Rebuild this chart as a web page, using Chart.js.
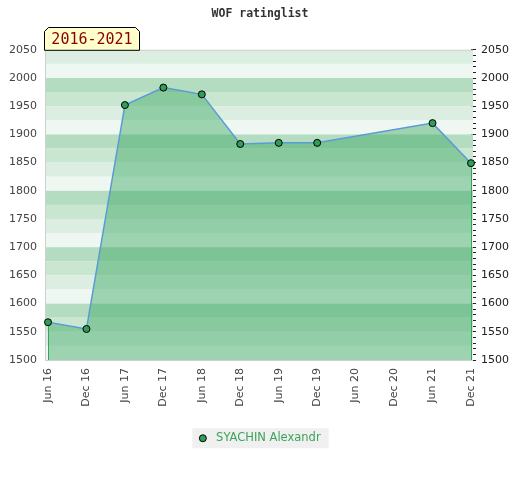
<!DOCTYPE html>
<html>
<head>
<meta charset="utf-8">
<title>WOF ratinglist</title>
<script src="https://cdn.jsdelivr.net/npm/chart.js@4"></script>
<style>
  html, body { margin: 0; padding: 0; background: #fff; }
  #wrap { width: 520px; height: 480px; }
</style>
</head>
<body>
<div id="wrap"><canvas id="ratingChart" width="520" height="480"></canvas></div>
<script>
// chart data
const periods = ['Jun 16', 'Dec 16', 'Jun 17', 'Dec 17', 'Jun 18', 'Dec 18',
                 'Jun 19', 'Dec 19', 'Jun 20', 'Dec 20', 'Jun 21', 'Dec 21'];
const ratings = [1567, 1555, 1952, 1983, 1971, 1883, 1885, 1885, null, null, 1920, 1849];
const playerName = 'SYACHIN Alexandr';
const chartTitle = 'WOF ratinglist';
const periodLabel = '2016-2021';
const ratingMin = 1500;
const ratingMax = 2050;

const pointGreen = '#2f9e57';
const textGreen = '#3aa35a';
const bottomPad = 26;
const plotBottom = 360;

// striped background behind the plot, 4 shades repeating every 100 points
const bandsPlugin = {
    id: 'bands',
    beforeDatasetsDraw(chart) {
        const ctx = chart.ctx;
        const y = chart.scales.y;
        const area = chart.chartArea;
        const left = area.left - 3;
        const right = area.right + 2;
        const shades = ['#b3dcc0', '#c8e6d0', '#dbeee1', '#eff7f2'];
        ctx.save();
        for (let v = y.max; v > y.min; v -= 25) {
            const idx = ((100 - (v % 100)) % 100) / 25;
            const top = y.getPixelForValue(v);
            const bottom = y.getPixelForValue(v - 25);
            ctx.fillStyle = shades[idx];
            ctx.fillRect(left, top, right - left, bottom - top);
        }
        // frame
        ctx.strokeStyle = '#d0d0d0';
        ctx.lineWidth = 1;
        ctx.beginPath();
        ctx.moveTo(left + 0.5, area.bottom);
        ctx.lineTo(left + 0.5, area.top + 0.5);
        ctx.lineTo(right, area.top + 0.5);
        ctx.moveTo(left, area.bottom + 0.5);
        ctx.lineTo(right, area.bottom + 0.5);
        ctx.stroke();
        ctx.restore();
    },
    afterDatasetsDraw(chart) {
        // green edges of the filled area
        const ctx = chart.ctx;
        const meta = chart.getDatasetMeta(0);
        const pts = meta.data.filter((p, i) => ratings[i] !== null);
        const bottom = chart.chartArea.bottom;
        ctx.save();
        ctx.strokeStyle = textGreen;
        ctx.lineWidth = 1;
        [pts[0], pts[pts.length - 1]].forEach(p => {
            const x = Math.round(p.x) + 0.5;
            ctx.beginPath();
            ctx.moveTo(x, p.y + 4);
            ctx.lineTo(x, bottom);
            ctx.stroke();
        });
        ctx.restore();
    }
};

// yellow caption tab above the plot, grey legend background and legend dot
const decorPlugin = {
    id: 'decor',
    beforeDraw(chart) {
        const legend = chart.legend;
        if (legend && legend.legendHitBoxes && legend.legendHitBoxes.length) {
            const hb = legend.legendHitBoxes[0];
            const ctx = chart.ctx;
            ctx.save();
            ctx.fillStyle = '#f0f0f0';
            ctx.fillRect(hb.left - 7, hb.top + hb.height / 2 - 10, hb.width + 15, 20);
            ctx.restore();
        }
    },
    afterDraw(chart) {
        const ctx = chart.ctx;
        const area = chart.chartArea;
        const legend = chart.legend;
        ctx.save();
        if (legend && legend.legendHitBoxes && legend.legendHitBoxes.length) {
            const hb = legend.legendHitBoxes[0];
            ctx.beginPath();
            ctx.arc(hb.left + 3.5, hb.top + hb.height / 2, 3.5, 0, Math.PI * 2);
            ctx.fillStyle = pointGreen;
            ctx.fill();
            ctx.strokeStyle = '#000';
            ctx.lineWidth = 1;
            ctx.stroke();
        }
        const x0 = area.left - 3.5;
        const x1 = x0 + 95;
        const y0 = 27.5;
        const y1 = area.top + 0.5;
        const c = 4;
        ctx.beginPath();
        ctx.moveTo(x0, y1);
        ctx.lineTo(x0, y0 + c);
        ctx.lineTo(x0 + c, y0);
        ctx.lineTo(x1 - c, y0);
        ctx.lineTo(x1, y0 + c);
        ctx.lineTo(x1, y1);
        ctx.closePath();
        ctx.fillStyle = '#ffffcc';
        ctx.fill();
        ctx.strokeStyle = '#000';
        ctx.lineWidth = 1;
        ctx.stroke();
        ctx.fillStyle = '#8b0000';
        ctx.font = '15px "DejaVu Sans Mono"';
        ctx.textAlign = 'center';
        ctx.textBaseline = 'middle';
        ctx.fillText(periodLabel, (x0 + x1) / 2, (y0 + y1) / 2 + 1);
        ctx.restore();
    }
};

const ctx = document.getElementById('ratingChart').getContext('2d');
new Chart(ctx, {
    type: 'line',
    data: {
        labels: periods,
        datasets: [{
            label: playerName,
            data: ratings,
            spanGaps: true,
            fill: 'start',
            tension: 0,
            backgroundColor: 'rgba(50, 165, 92, 0.43)',
            borderColor: '#5b9bd5',
            borderWidth: 1.5,
            pointRadius: 3.5,
            pointHoverRadius: 3.5,
            pointBackgroundColor: pointGreen,
            pointBorderColor: '#000',
            pointBorderWidth: 1
        }]
    },
    options: {
        responsive: false,
        animation: false,
        layout: { padding: { top: 0, bottom: bottomPad, left: 0, right: 0 } },
        plugins: {
            title: {
                display: true,
                text: chartTitle,
                color: '#333',
                font: { family: 'DejaVu Sans Mono', size: 11.5, weight: 'bold' },
                padding: { top: 7, bottom: 29 }
            },
            legend: {
                position: 'bottom',
                labels: {
                    usePointStyle: false,
                    boxWidth: 11,
                    boxHeight: 7,
                    padding: 8,
                    font: { family: 'DejaVu Sans', size: 11.5 },
                    generateLabels(chart) {
                        return chart.data.datasets.map((ds, i) => ({
                            text: ds.label,
                            fillStyle: 'rgba(0,0,0,0)',
                            strokeStyle: 'rgba(0,0,0,0)',
                            lineWidth: 0,
                            fontColor: textGreen,
                            datasetIndex: i
                        }));
                    }
                }
            },
            tooltip: { enabled: false }
        },
        scales: {
            x: {
                offset: false,
                grid: { display: false, drawTicks: false },
                border: { display: false },
                ticks: {
                    autoSkip: false,
                    maxRotation: 90,
                    minRotation: 90,
                    padding: 8,
                    color: '#444',
                    font: { family: 'DejaVu Sans', size: 11 }
                },
                afterFit(scale) {
                    const legendH = scale.chart.legend ? scale.chart.legend.height : 0;
                    scale.height = scale.chart.height - plotBottom - legendH - bottomPad;
                }
            },
            y: {
                position: 'left',
                min: ratingMin,
                max: ratingMax,
                grid: { display: false, drawTicks: false },
                border: { display: false },
                ticks: {
                    stepSize: 50,
                    padding: 11,
                    color: '#444',
                    font: { family: 'DejaVu Sans', size: 11 },
                    callback: v => String(v)
                },
                afterFit(scale) { scale.width = 48; }
            },
            y2: {
                position: 'right',
                min: ratingMin,
                max: ratingMax,
                grid: {
                    display: true,
                    drawOnChartArea: false,
                    drawTicks: true,
                    tickLength: 5,
                    tickColor: '#222',
                    tickWidth: 1
                },
                border: { display: false },
                ticks: {
                    stepSize: 10,
                    autoSkip: false,
                    padding: 5,
                    color: '#222',
                    font: { family: 'DejaVu Sans', size: 11 },
                    callback: v => (v % 50 === 0 ? String(v) : '')
                },
                afterFit(scale) { scale.width = 49; }
            }
        }
    },
    plugins: [bandsPlugin, decorPlugin]
});
</script>
</body>
</html>
